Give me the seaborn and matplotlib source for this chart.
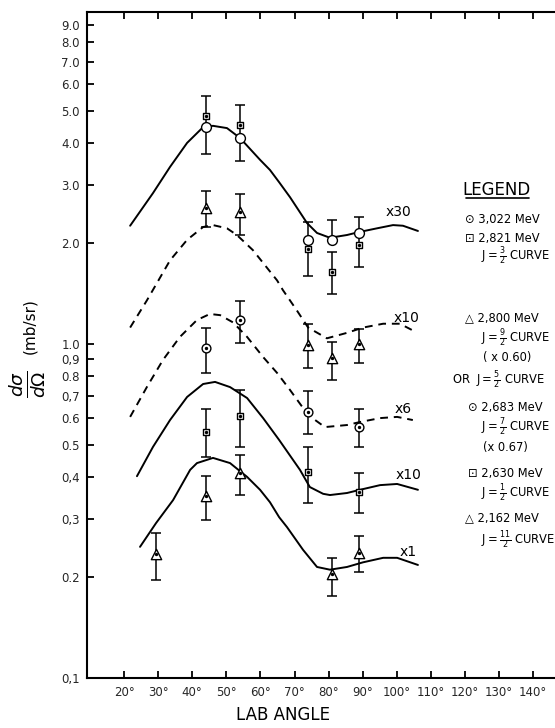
import numpy as np
import pandas as pd
import matplotlib
matplotlib.use("Agg")
import matplotlib.pyplot as plt
import matplotlib.ticker as ticker
from matplotlib.lines import Line2D
import seaborn as sns

# -------------------------------
# Data (lab angle in degrees, dsigma/dOmega in mb/sr)
# -------------------------------
# theoretical curves
ang_j32 = [21.8, 28.5, 33.5, 38.5, 43.2, 46.1, 50.2, 54.0, 59.9, 62.8, 65.5, 68.7, 73.7, 76.6, 80.4, 85.4, 88.6, 94.2, 98.9, 101.8, 106.2]
val_j32 = [2.26, 2.83, 3.39, 4.00, 4.46, 4.50, 4.43, 4.14, 3.56, 3.32, 3.05, 2.75, 2.30, 2.15, 2.08, 2.12, 2.16, 2.22, 2.27, 2.26, 2.18]

ang_j92 = [21.8, 26.7, 33.5, 38.5, 43.2, 46.1, 50.2, 53.1, 57.8, 64.9, 66.6, 70.7, 74.0, 79.5, 85.4, 90.1, 96.0, 100.9, 105.3]
val_j92 = [1.12, 1.35, 1.78, 2.05, 2.24, 2.27, 2.22, 2.12, 1.91, 1.55, 1.45, 1.26, 1.12, 1.04, 1.08, 1.12, 1.15, 1.15, 1.09]

ang_j72 = [21.8, 26.7, 31.4, 36.4, 41.4, 45.2, 48.2, 52.0, 56.1, 60.8, 64.9, 68.7, 74.0, 78.9, 85.4, 89.2, 95.1, 100.1, 104.7]
val_j72 = [0.605, 0.743, 0.895, 1.05, 1.18, 1.23, 1.22, 1.16, 1.05, 0.914, 0.819, 0.728, 0.613, 0.564, 0.572, 0.584, 0.600, 0.605, 0.592]

ang_j12 = [23.8, 28.5, 33.5, 38.5, 43.2, 46.7, 51.1, 56.1, 60.8, 65.5, 71.6, 74.5, 78.4, 80.4, 85.4, 89.2, 95.1, 100.1, 106.2]
val_j12 = [0.402, 0.492, 0.592, 0.694, 0.759, 0.770, 0.743, 0.689, 0.600, 0.516, 0.420, 0.373, 0.356, 0.353, 0.358, 0.366, 0.378, 0.381, 0.366]

ang_j112 = [24.7, 29.4, 34.4, 39.4, 41.4, 46.1, 51.1, 56.1, 59.9, 62.8, 65.5, 67.8, 72.5, 76.6, 80.4, 85.4, 90.1, 96.0, 100.1, 106.2]
val_j112 = [0.247, 0.291, 0.341, 0.420, 0.440, 0.456, 0.440, 0.400, 0.366, 0.336, 0.303, 0.283, 0.242, 0.215, 0.211, 0.215, 0.222, 0.229, 0.229, 0.218]

# measured points
ang_3022 = [44, 54, 74, 81, 89]
val_3022 = [4.46, 4.14, 2.05, 2.05, 2.15]
lo_3022 = [3.71, 3.53, 1.60, 2.05, 1.70]
hi_3022 = [5.53, 5.19, 2.32, 2.35, 2.40]

ang_2821 = [44, 54, 74, 81, 89]
val_2821 = [4.82, 4.53, 1.92, 1.64, 1.98]
lo_2821 = [np.nan, np.nan, np.nan, 1.41, np.nan]
hi_2821 = [np.nan, np.nan, np.nan, 1.89, np.nan]

ang_2800 = [44, 54, 74, 81, 89]
val_2800 = [2.55, 2.48, 0.993, 0.908, 1.00]
lo_2800 = [2.24, 2.12, 0.848, 0.780, 0.877]
hi_2800 = [2.87, 2.81, 1.15, 1.014, 1.109]

ang_2683 = [44, 54, 74, 89]
val_2683 = [0.973, 1.18, 0.626, 0.564]
lo_2683 = [0.819, 1.007, 0.538, 0.492]
hi_2683 = [1.12, 1.345, 0.723, 0.639]

ang_2630 = [44, 54, 74, 89]
val_2630 = [0.545, 0.609, 0.414, 0.360]
lo_2630 = [0.459, 0.492, 0.334, 0.312]
hi_2630 = [0.639, 0.728, 0.492, 0.411]

ang_2162 = [29.5, 44, 54, 81, 89]
val_2162 = [0.235, 0.351, 0.411, 0.205, 0.237]
lo_2162 = [0.197, 0.297, 0.353, 0.176, 0.208]
hi_2162 = [0.272, 0.402, 0.465, 0.229, 0.266]

# axis ticks
x_ticks = list(range(20, 150, 10))
x_ticklabels = [f"{t}°" for t in x_ticks]
y_ticks = [0.1, 0.2, 0.3, 0.4, 0.5, 0.6, 0.7, 0.8, 0.9, 1, 2, 3, 4, 5, 6, 7, 8, 9]
y_ticklabels = ["0,1", "0.2", "0,3", "0,4", "0.5", "0.6", "0,7", "0.8", "0,9",
                "1.0", "2.0", "3.0", "4.0", "5.0", "6.0", "7.0", "8.0", "9.0"]

# scale factor labels at the curve ends
scale_labels = ["x30", "x10", "x6", "x10", "x1"]
scale_x = [100.5, 103.0, 102.0, 103.3, 103.3]
scale_y = [2.48, 1.20, 0.64, 0.405, 0.238]

# legend text lines (hand lettered on the original)
legend_text = ["⊙ 3,022 MeV", "⊡ 2,821 MeV", r"J$=\frac{3}{2}$ CURVE",
               "△ 2,800 MeV", r"J$=\frac{9}{2}$ CURVE", "( x 0.60)",
               r"OR  J$=\frac{5}{2}$ CURVE",
               "⊙ 2,683 MeV", r"J$=\frac{7}{2}$ CURVE", "(x 0.67)",
               "⊡ 2,630 MeV", r"J$=\frac{1}{2}$ CURVE",
               "△ 2,162 MeV", r"J$=\frac{11}{2}$ CURVE"]

# -------------------------------
# Figure
# -------------------------------
sns.set_theme(style="ticks")
plt.rcParams["font.family"] = ["DejaVu Sans"]
plt.rcParams["mathtext.fontset"] = "dejavusans"
plt.rcParams["axes.edgecolor"] = "black"
plt.rcParams["text.color"] = "black"

W, H = 555, 728
fig = plt.figure(figsize=(W / 100, H / 100), dpi=100)
fig.patch.set_facecolor("white")
ax = fig.add_axes([87 / W, 1 - 678 / H, 1 - 87 / W, (678 - 12) / H])
ax.set_facecolor("white")
ax.set_yscale("log")


def px2deg(p):
    return 20 + (p - 124) / 3.41


ax.set_xlim(px2deg(87), px2deg(555))
ax.set_ylim(0.1, 10 ** ((678 - 12) / 334 - 1))

dash = (0, (4, 3))
curves = [(ang_j32, val_j32, "-"), (ang_j92, val_j92, dash), (ang_j72, val_j72, dash),
          (ang_j12, val_j12, "-"), (ang_j112, val_j112, "-")]
for xs, ys, ls in curves:
    sns.lineplot(x=xs, y=ys, ax=ax, color="black", linewidth=1.4, linestyle=ls)


def draw_points(xs, ys, lo, hi, marker, size, dot=True):
    xs = np.array(xs, float)
    ys = np.array(ys, float)
    lo = np.array(lo, float)
    hi = np.array(hi, float)
    m = ~np.isnan(lo)
    ax.errorbar(xs[m], ys[m], yerr=[ys[m] - lo[m], hi[m] - ys[m]], fmt="none",
                ecolor="black", elinewidth=1.1, capsize=3.5, capthick=1.1, zorder=2)
    sns.scatterplot(x=xs, y=ys, ax=ax, marker=marker, s=size, facecolor="white",
                    edgecolor="black", linewidth=1.0, zorder=3)
    if dot:
        ax.scatter(xs, ys, s=2, color="black", zorder=4)


draw_points(ang_3022, val_3022, lo_3022, hi_3022, "o", 50, dot=False)
draw_points(ang_2821, val_2821, lo_2821, hi_2821, "s", 20)
draw_points(ang_2800, val_2800, lo_2800, hi_2800, "^", 55)
draw_points(ang_2683, val_2683, lo_2683, hi_2683, "o", 40)
draw_points(ang_2630, val_2630, lo_2630, hi_2630, "s", 20)
draw_points(ang_2162, val_2162, lo_2162, hi_2162, "^", 55)

for lab, xx, yy in zip(scale_labels, scale_x, scale_y):
    ax.text(xx, yy, lab, fontsize=10, ha="center", va="center")

# axes styling
ax.xaxis.set_major_locator(ticker.FixedLocator(x_ticks))
ax.set_xticklabels(x_ticklabels)
ax.yaxis.set_major_locator(ticker.FixedLocator(y_ticks))
ax.yaxis.set_minor_locator(ticker.NullLocator())
ax.set_yticklabels(y_ticklabels)
ax.tick_params(axis="both", direction="in", length=5, width=1.3, color="black",
               labelsize=8.5, top=True, right=False)
ax.tick_params(axis="x", pad=6)
ax.tick_params(axis="y", pad=5)
for s in ["left", "bottom", "top"]:
    ax.spines[s].set_linewidth(1.5)
ax.spines["right"].set_visible(False)
ax.set_xlabel("")
ax.set_ylabel("")

fig.text(283 / W, 1 - 715 / H, "LAB ANGLE", fontsize=12, ha="center", va="center")
fig.text(28 / W, 1 - 384 / H, r"$\frac{d\sigma}{d\Omega}$", fontsize=19,
         rotation=90, ha="center", va="center")
fig.text(30 / W, 1 - 326 / H, "(mb/sr)", fontsize=11,
         rotation=90, ha="center", va="center")

# hand-lettered legend on the right
fig.text(497 / W, 1 - 190 / H, "LEGEND", fontsize=12, ha="center", va="center")
fig.add_artist(Line2D([466 / W, 529 / W], [1 - 198 / H, 1 - 198 / H], color="black", lw=1.2))
legend_x = [465, 465, 481, 465, 481, 483, 452, 468, 481, 483, 468, 481, 465, 481]
legend_y = [220, 239, 256, 318, 338, 358, 380, 408, 427, 447, 473, 493, 518, 540]
for lx, ly, txt in zip(legend_x, legend_y, legend_text):
    fig.text(lx / W, 1 - ly / H, txt, fontsize=8.3, ha="left", va="center")

fig.savefig("out.png", dpi=100, facecolor="white")
